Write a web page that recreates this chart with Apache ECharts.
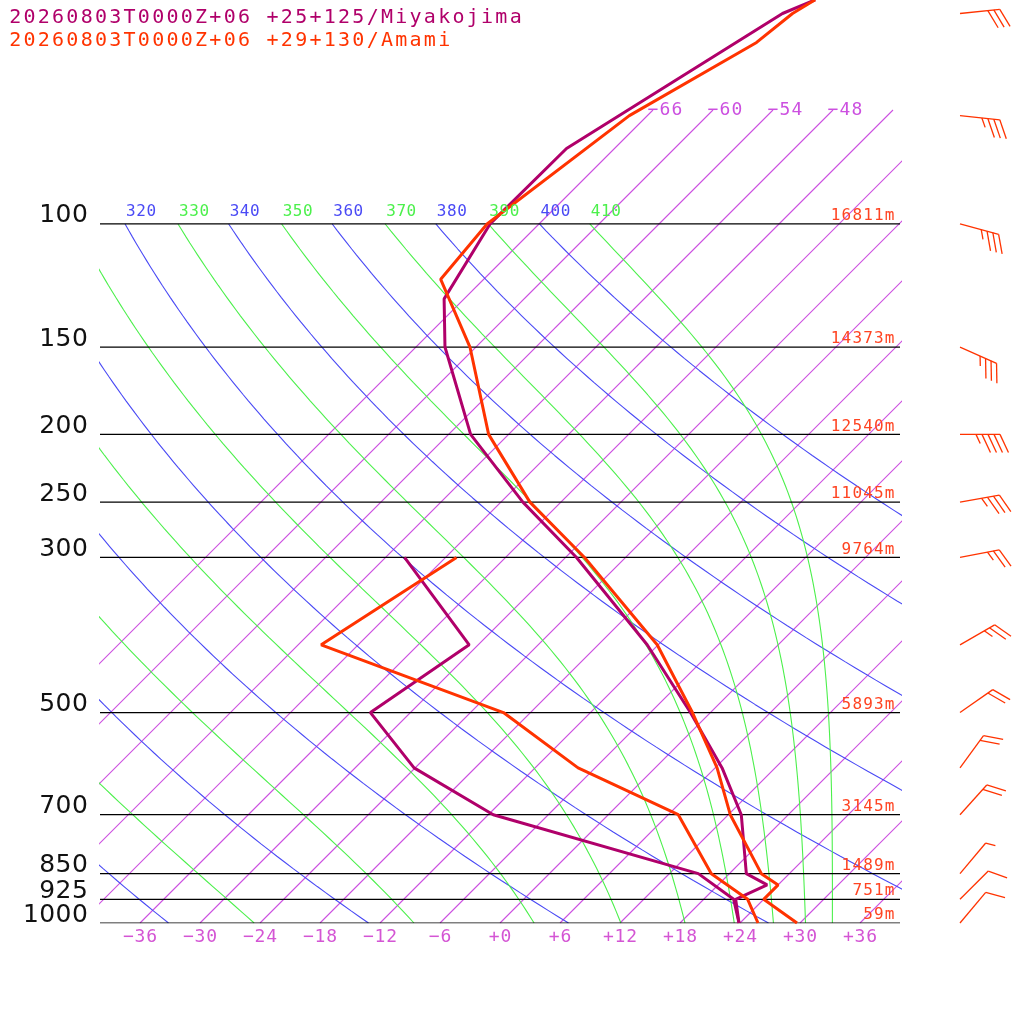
<!DOCTYPE html>
<html><head><meta charset="utf-8">
<script src="https://cdn.jsdelivr.net/npm/echarts@6/dist/echarts.min.js"></script>
<style>html,body{margin:0;padding:0;background:#fff}#c{width:1024px;height:1024px}</style>
</head><body><div id="c"></div>
<script>
// ---- data ----
const titles = ["20260803T0000Z+06 +25+125/Miyakojima", "20260803T0000Z+06 +29+130/Amami"];
const levels = [100,150,200,250,300,500,700,850,925,1000];
const heights = ["16811m","14373m","12540m","11045m","9764m","5893m","3145m","1489m","751m","59m"];
const miyaT = [[1000,23.9],[925,21.2],[882,22.9],[850,19.7],[700,13.3],[600,6.7],[500,-2],[400,-13.1],[300,-28.9],[250,-39.8],[200,-51.8],[150,-63.1],[128,-68],[100,-70.9],[78,-70.8],[50,-62.7],[47.8,-60.8]];
const miyaTd = [[1000,23.9],[925,21],[850,14.9],[700,-11.5],[600,-24.1],[500,-34],[400,-30.9],[300,-46.1]];
const amaT = [[1000,29.7],[925,24],[882,24],[850,21.2],[700,12.2],[600,6.2],[500,-1.8],[400,-12.1],[300,-28.1],[250,-39.1],[200,-50],[150,-60.6],[120,-70.3],[100,-71.2],[70,-67.8],[55,-62.4],[50,-61.7],[47.8,-60.8]];
const amaTd = [[1000,25.8],[925,22.4],[850,16.2],[700,7],[600,-7.7],[500,-20.7],[400,-45.7],[300,-40.9]];
// wind barbs (Amami): pressure, direction (deg from), speed (kt)
const winds = [[50,84,30],[70,96,35],[100,105,35],[150,114,35],[200,90,45],[250,80,35],[300,79,25],[400,60,25],[500,55,20],[600,36,20],[700,42,20],[850,40,5],[925,45,10],[1000,40,10]];
const tempTicks = [-36,-30,-24,-18,-12,-6,0,6,12,18,24,30,36];
const isotherms = [-66,-60,-54,-48,-42,-36,-30,-24,-18,-12,-6,0,6,12,18,24,30,36,42];
const topIsoLabels = [-66,-60,-54,-48];
const dryTheta = [240,260,280,300,320,340,360,380,400];
const moistThetaE = [250,270,290,310,330,350,370,390,410];

// ---- skew-T mapping ----
const PXLN = 303.6, S = PXLN/10;
const yMin = 1000*Math.exp(-923/PXLN);
const pTopIso = 1000*Math.exp(-813/PXLN);
const sk = (p,T) => [T + S*Math.log(1000/p), p];
const ln = a => a.map(d => sk(d[0], d[1]));
const pList = []; for (let lp = Math.log(1000); lp >= Math.log(100)-1e-9; lp -= 0.02) pList.push(Math.exp(lp));
pList.push(100);
function thetaE(T,p){ const tc=T-273.15; const es=6.112*Math.exp(17.67*tc/(tc+243.5)); const r=622*es/(p-es);
  return T*Math.pow(1000/p,0.2854*(1-0.00028*r))*Math.exp((3.376/T-0.00254)*r*(1+0.00081*r)); }
function moistT(te,p){ let lo=150,hi=330; for(let i=0;i<60;i++){const m=(lo+hi)/2; if(thetaE(m,p)>te) hi=m; else lo=m;} return (lo+hi)/2-273.15; }

const series = [];
const thin = (data,color) => ({type:'line',data,symbol:'none',silent:true,lineStyle:{color,width:1.1},animation:false,z:1});
isotherms.forEach(T => series.push(thin([sk(1000,T), sk(pTopIso,T)], '#cc50e0')));
dryTheta.forEach(th => series.push(thin(pList.map(p => sk(p, th*Math.pow(p/1000,0.2857)-273.15)), '#4a4af5')));
moistThetaE.forEach(te => series.push(thin(pList.map(p => sk(p, moistT(te,p))), '#4cf04c')));
levels.forEach(p => series.push({type:'line',data:[[-40,p],[40,p]],symbol:'none',silent:true,lineStyle:{color:'#000',width:1.2},animation:false,z:2}));
const snd = (d,c) => ({type:'line',data:ln(d),symbol:'none',lineStyle:{color:c,width:3},animation:false,z:5});
series.push(snd(miyaT,'#b0006a'), snd(miyaTd,'#b0006a'), snd(amaT,'#ff3300'), snd(amaTd,'#ff3300'));
series.push({type:'custom',clip:false,animation:false,z:6,data:winds.map(w=>[0,w[0],w[1],w[2]]),encode:{x:0,y:1},
  renderItem:(params,api)=>{
    const y = api.coord([0,api.value(1)])[1], x=960;
    const d = api.value(2)*Math.PI/180, spd=api.value(3);
    const vx=Math.sin(d), vy=-Math.cos(d), L=40;
    const tx=x+vx*L, ty=y+vy*L;
    const a=Math.atan2(vy,vx)+65*Math.PI/180, bx=Math.cos(a), by=Math.sin(a);
    const ch=[{type:'line',shape:{x1:x,y1:y,x2:tx,y2:ty},style:{stroke:'#ff3300',lineWidth:1.3}}];
    let n=Math.floor(spd/10), half=(spd%10)>=5, k=0;
    for(let i=0;i<n;i++,k++){const px=tx-vx*6*k, py=ty-vy*6*k; ch.push({type:'line',shape:{x1:px,y1:py,x2:px+bx*20,y2:py+by*20},style:{stroke:'#ff3300',lineWidth:1.3}});}
    if(half){const px=tx-vx*6*k, py=ty-vy*6*k; ch.push({type:'line',shape:{x1:px,y1:py,x2:px+bx*10,y2:py+by*10},style:{stroke:'#ff3300',lineWidth:1.3}});}
    return {type:'group',children:ch};
  }});

const chart = echarts.init(document.getElementById('c'));
chart.setOption({
  animation:false,
  grid:{left:100,right:124,top:0,bottom:101},
  xAxis:{type:'value',min:-40,max:40,show:false},
  yAxis:{type:'log',min:yMin,max:1000,inverse:true,show:false},
  series
});

function spaced(str,x,y,cw,font,color,align){
  const tot=cw*str.length; const st = align==='center'? x-tot/2 : align==='right'? x-tot : x;
  return Array.from(str).map((c,i)=>({type:'text',x:st+cw*i+cw/2,y,silent:true,z:10,style:{text:c,font,fill:color,align:'center',verticalAlign:'middle'}}));
}
const px = (X,p) => chart.convertToPixel({gridIndex:0},[X,p]);
const MINUS = '\u2212';
let g = [];
const mono = '20px "DejaVu Sans Mono"';
g = g.concat(spaced(titles[0],8,18,14.3,mono,'#b0006a','left'));
g = g.concat(spaced(titles[1],8,41,14.3,mono,'#ff3300','left'));
levels.forEach((p,i)=>{
  const [x0,y0]=px(-40,p), [x1]=px(40,p);
  g = g.concat(spaced(String(p),x0-12,y0-8,16.3,'25px "DejaVu Sans"','#111','right'));
  g = g.concat(spaced(heights[i],x1-5,y0-8,10.8,'16px "DejaVu Sans Mono"','#ff4422','right'));
});
tempTicks.forEach(T=>{
  const [x,y]=px(T,1000);
  const s=(T<0?MINUS:'+')+Math.abs(T);
  g = g.concat(spaced(s,x,y+14,11.7,'18px "DejaVu Sans Mono"','#d455d4','center'));
});
topIsoLabels.forEach(T=>{
  const [x,y]=px(T+S*Math.log(1000/pTopIso),pTopIso);
  g = g.concat(spaced(MINUS+Math.abs(T),x+12,y,12,'18px "DejaVu Sans Mono"','#cc50e0','center'));
});
dryTheta.forEach(th=>{
  const [x,y]=px(th*Math.pow(0.1,0.2857)-273.15+S*Math.log(10),100);
  if(x>=100) g = g.concat(spaced(String(th),x+16,212,10.2,'16px "DejaVu Sans Mono"','#4a4af5','center'));
});
moistThetaE.forEach(te=>{
  const [x,y]=px(moistT(te,100)+S*Math.log(10),100);
  if(x>=100) g = g.concat(spaced(String(te),x+16,212,10.2,'16px "DejaVu Sans Mono"','#4cf04c','center'));
});
chart.setOption({graphic:{elements:g}});
</script></body></html>
